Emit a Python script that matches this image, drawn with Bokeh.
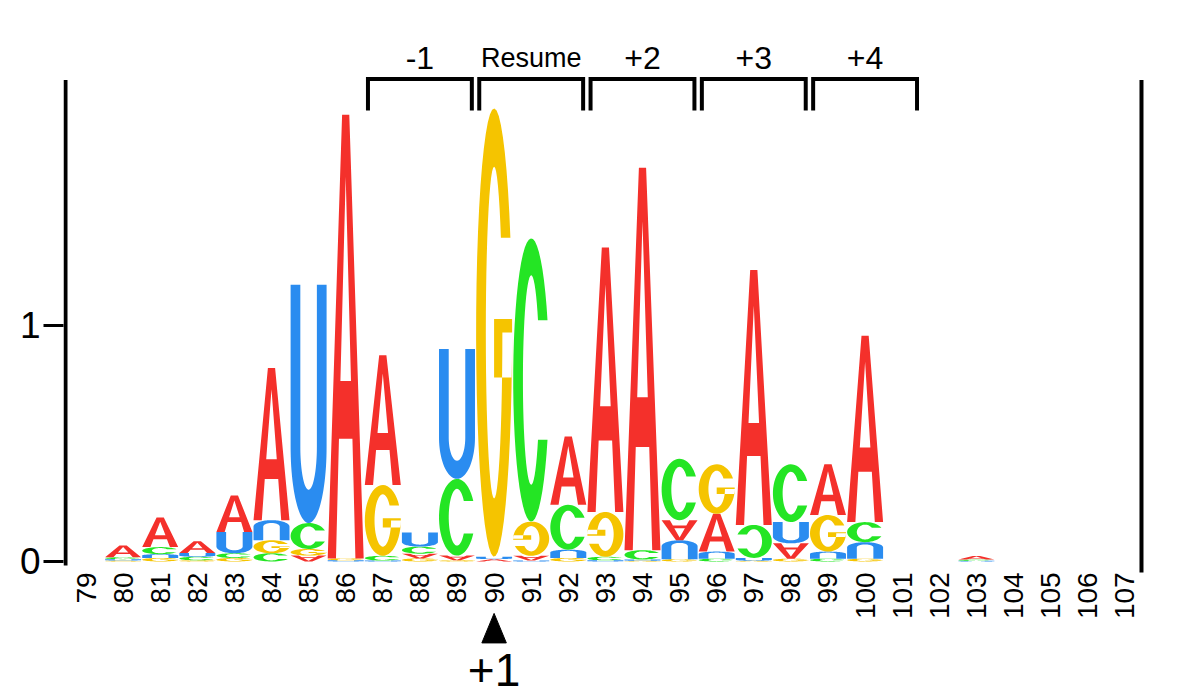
import numpy as np
from bokeh.plotting import figure
from bokeh.models import FixedTicker, Range1d
from bokeh.core.properties import value
from bokeh.embed import file_html
from bokeh.resources import INLINE

# ---------------- data ----------------
positions = list(range(79, 108))
#            79    80    81    82    83    84    85    86    87    88    89    90    91    92    93    94    95    96    97    98    99    100   101 102 103   104 105 106 107
A_bits = [0.0, 0.050, 0.125, 0.050, 0.155, 0.645, 0.025, 1.880, 0.550, 0.020, 0.020, 0.010, 0.020, 0.290, 1.120, 1.620, 0.085, 0.160, 1.080, 0.065, 0.215, 0.790, 0, 0, 0.015, 0, 0, 0, 0]
C_bits = [0.0, 0.008, 0.030, 0.015, 0.020, 0.035, 0.110, 0.000, 0.020, 0.030, 0.325, 0.000, 1.200, 0.190, 0.015, 0.040, 0.260, 0.012, 0.140, 0.245, 0.012, 0.085, 0, 0, 0.005, 0, 0, 0, 0]
G_bits = [0.0, 0.004, 0.015, 0.005, 0.015, 0.055, 0.028, 0.008, 0.300, 0.013, 0.005, 1.900, 0.145, 0.015, 0.190, 0.003, 0.010, 0.210, 0.003, 0.012, 0.155, 0.012, 0, 0, 0.000, 0, 0, 0, 0]
U_bits = [0.0, 0.006, 0.016, 0.016, 0.090, 0.085, 1.010, 0.005, 0.004, 0.060, 0.550, 0.010, 0.004, 0.035, 0.005, 0.005, 0.080, 0.030, 0.012, 0.090, 0.030, 0.070, 0, 0, 0.003, 0, 0, 0, 0]

# positions where the letter is drawn upside down
A_inverted = [85, 88, 89, 91, 95, 98]
C_inverted = [97]
G_inverted = [91, 93]
U_inverted = [81, 84, 92, 95, 96, 99, 100]

frame_labels = ["-1", "Resume", "+2", "+3", "+4"]
frame_first = [87, 90, 93, 96, 99]
frame_len = 3

start_pos = 90
start_label = "+1"

y_ticks = [0, 1]
y_axis_top = 2.04

colors = {"A": "#F4302B", "C": "#24E524", "G": "#F5C400", "U": "#2A8CF0"}
FONT = "Liberation Sans"

# ---------------- letter outlines (unit box) ----------------
def arc(cx, cy, rx, ry, a0, a1, n=48):
    t = np.radians(np.linspace(a0, a1, n))
    return list(cx + rx * np.cos(t)), list(cy + ry * np.sin(t))

def shape_A():
    outer = ([0, 0.40, 0.60, 1, 0.77, 0.687, 0.313, 0.23],
             [0, 1, 1, 0, 0, 0.27, 0.27, 0])
    hole = ([0.353, 0.647, 0.5], [0.40, 0.40, 0.86])
    return [[outer, hole]]

def shape_U():
    ox, oy = arc(0.5, 0.32, 0.5, 0.32, 180, 360)
    ix, iy = arc(0.5, 0.32, 0.23, 0.18, 360, 180)
    xs = [0] + ox + [1, 0.73] + ix + [0.27]
    ys = [1] + oy + [1, 1] + iy + [1]
    return [[(xs, ys)]]

RX_I, RY_I, TH_O = 0.23, 0.37, 25.0
TH_I = np.degrees(np.arcsin(0.5 * np.sin(np.radians(TH_O)) / RY_I))

def shape_C():
    ox, oy = arc(0.5, 0.5, 0.5, 0.5, TH_O, 360 - TH_O)
    ix, iy = arc(0.5, 0.5, RX_I, RY_I, 360 - TH_I, TH_I)
    return [[(ox + ix, oy + iy)]]

def shape_G():
    ox, oy = arc(0.5, 0.5, 0.5, 0.5, TH_O, 360)
    ix, iy = arc(0.5, 0.5, RX_I, RY_I, 360, TH_I)
    bar = ([0.5, 1.0, 1.0, 0.5], [0.40, 0.40, 0.53, 0.53])
    return [[(ox + ix, oy + iy)], [bar]]

shapes = {"A": shape_A(), "C": shape_C(), "G": shape_G(), "U": shape_U()}
bits = {"A": A_bits, "C": C_bits, "G": G_bits, "U": U_bits}
inverted = {"A": A_inverted, "C": C_inverted, "G": G_inverted, "U": U_inverted}

LETTER_W = 0.97

mx, my, mc = [], [], []
for i, pos in enumerate(positions):
    stack = sorted([(bits[b][i], b) for b in "ACGU" if bits[b][i] > 0])
    y0 = 0.0
    for h, b in stack:
        flip = pos in inverted[b]
        polys_x, polys_y = [], []
        for poly in shapes[b]:
            rings_x, rings_y = [], []
            for (u, v) in poly:
                u = np.array(u, dtype=float)
                v = np.array(v, dtype=float)
                if flip:
                    u, v = 1 - u, 1 - v
                rings_x.append(list(pos - LETTER_W / 2 + u * LETTER_W))
                rings_y.append(list(y0 + v * h))
            polys_x.append(rings_x)
            polys_y.append(rings_y)
        mx.append(polys_x)
        my.append(polys_y)
        mc.append(colors[b])
        y0 += h

# ---------------- figure ----------------
x_start, x_end = 78.3935, 107.693
y_start, y_end = -0.589, 2.3347

p = figure(width=1192, height=700, output_backend="svg", toolbar_location=None,
           x_axis_location=None, x_range=Range1d(x_start, x_end), y_range=Range1d(y_start, y_end),
           min_border_left=63, min_border_right=42, min_border_top=10, min_border_bottom=0,
           title=None)
p.outline_line_color = None
p.grid.visible = False
p.background_fill_color = "white"

ax = p.yaxis[0]
ax.ticker = FixedTicker(ticks=y_ticks)
ax.axis_line_color = None
ax.major_tick_out = 20
ax.major_tick_in = 0
ax.major_tick_line_width = 3
ax.major_tick_line_color = "black"
ax.minor_tick_line_color = None
ax.major_label_text_font_size = "37px"
ax.major_label_text_font = FONT
ax.major_label_text_color = "black"
ax.major_label_standoff = 3

p.multi_polygons(xs=mx, ys=my, fill_color=mc, line_color=None)

# axis lines
left_x = x_start + 0.054
right_x = 107.45
p.segment(x0=[left_x], y0=[-0.017], x1=[left_x], y1=[y_axis_top], line_width=4, line_color="black")
p.segment(x0=[right_x], y0=[-0.047], x1=[right_x], y1=[y_axis_top], line_width=4, line_color="black")

# x labels (rotated)
p.text(x=positions, y=[-0.046] * len(positions), text=[str(v) for v in positions],
       angle=np.pi / 2, text_align="right", text_baseline="middle",
       text_font_size="28px", text_font=value(FONT), text_color="black")

# frame brackets
bx, by = [], []
for f in frame_first:
    a, b = f - 0.4, f + frame_len - 1 + 0.4
    bx.append([a, a, b, b])
    by.append([1.911, 2.044, 2.044, 1.911])
p.multi_line(xs=bx, ys=by, line_width=4, line_color="black", line_join="miter")
lab_x = [f + (frame_len - 1) / 2 for f in frame_first]
sizes = ["27px" if len(l) > 3 else "32px" for l in frame_labels]
p.text(x=lab_x, y=[2.133] * len(lab_x), text=frame_labels, text_align="center",
       text_baseline="middle", text_font_size=sizes, text_font=value(FONT), text_color="black")

# start marker
p.patch(x=[start_pos - 0.33, start_pos + 0.33, start_pos], y=[-0.345, -0.345, -0.22],
        fill_color="black", line_color="black")
p.text(x=[start_pos], y=[-0.458], text=[start_label], text_align="center",
       text_baseline="middle", text_font_size="46px", text_font=value(FONT), text_color="black")

open("out.html", "w").write(file_html(p, INLINE))
